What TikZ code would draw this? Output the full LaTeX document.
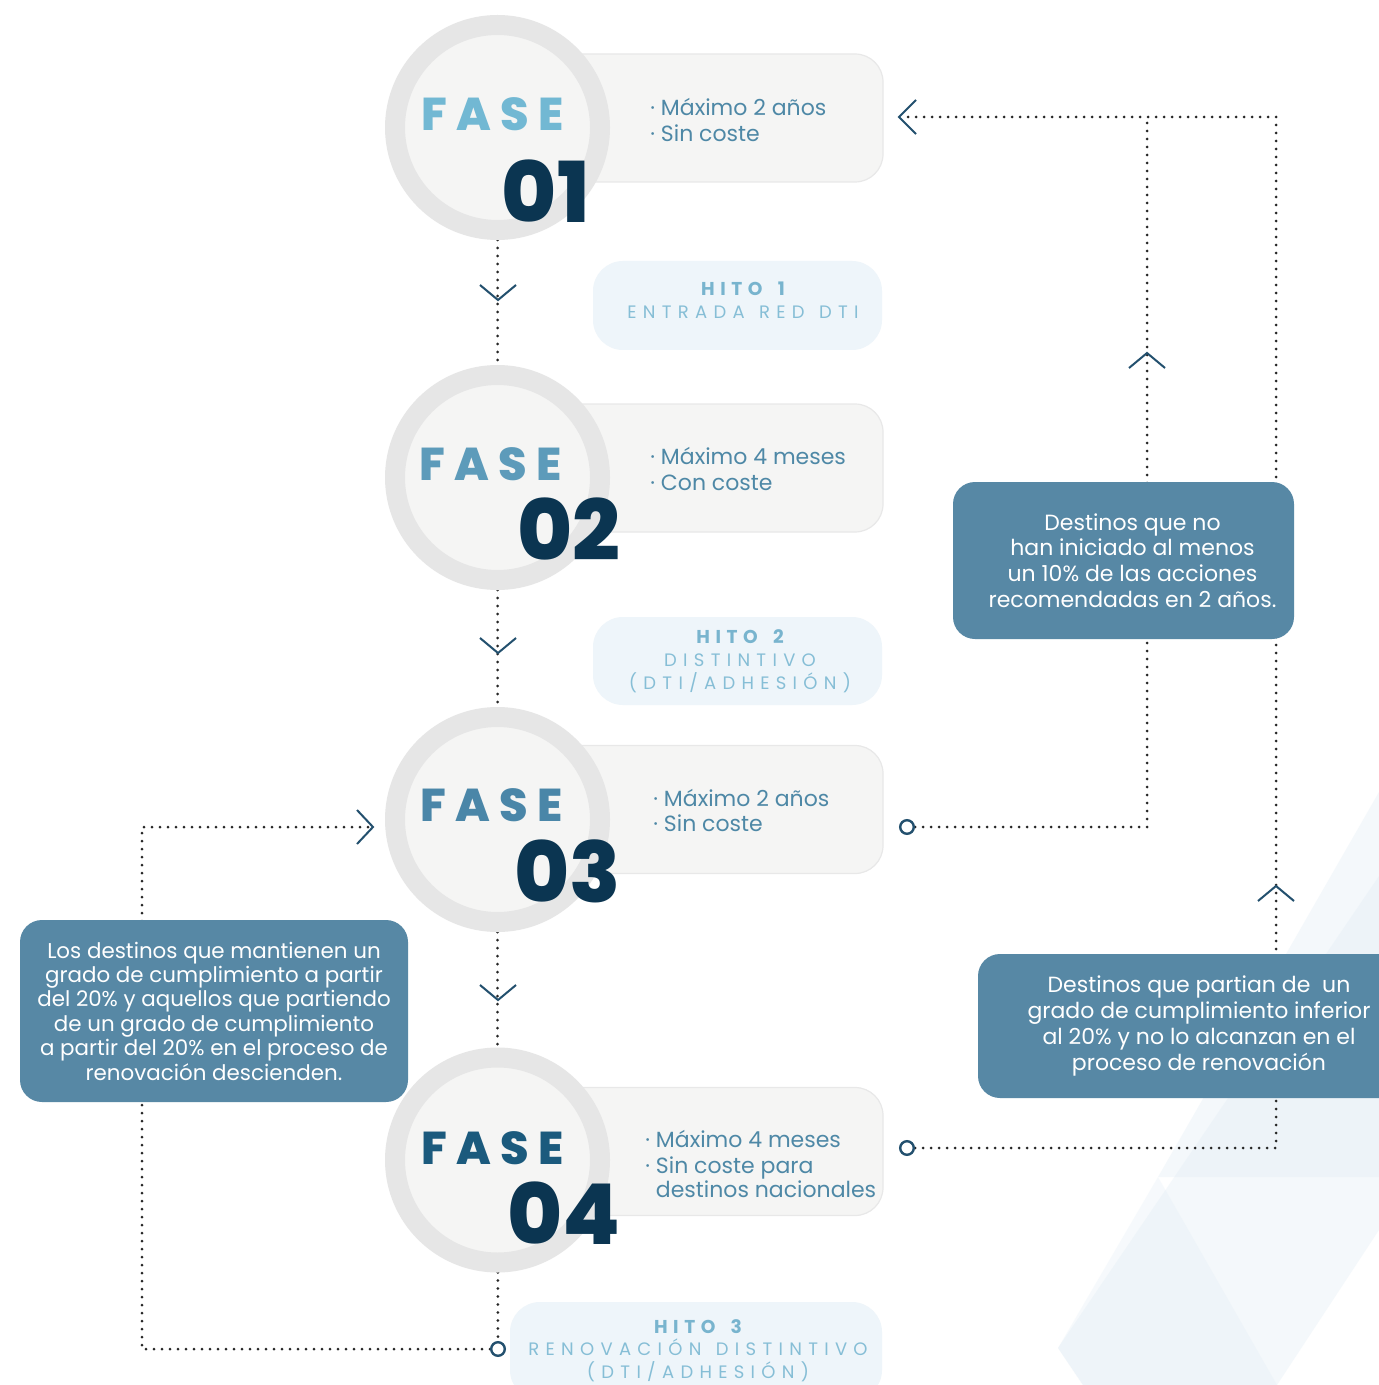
\documentclass[tikz,border=0pt]{standalone}
\usepackage{fontspec}
\newfontfamily\pop{Poppins}
\newfontfamily\popxb{Poppins ExtraBold}
\newfontfamily\popls[LetterSpace=30,WordSpace=1.6]{Poppins}
\newfontfamily\poplsr[LetterSpace=35,WordSpace=1.3]{Poppins}
\newfontfamily\popfase[LetterSpace=20]{Poppins ExtraBold}
\definecolor{ringc}{HTML}{E6E6E6}
\definecolor{innerc}{HTML}{F5F5F4}
\definecolor{grayfill}{HTML}{F5F5F4}
\definecolor{grayline}{HTML}{E8E8E8}
\definecolor{hitofill}{HTML}{EEF5FA}
\definecolor{hitoc}{HTML}{78B4CE}
\definecolor{hitoc2}{HTML}{86BED6}
\definecolor{boxblue}{HTML}{5788A5}
\definecolor{dotc}{HTML}{262626}
\definecolor{chevc}{HTML}{23506E}
\definecolor{numc}{HTML}{0B3551}
\definecolor{bodyc}{HTML}{4E88A6}
\definecolor{faseA}{HTML}{72B8D3}
\definecolor{faseB}{HTML}{5D9BBA}
\definecolor{faseC}{HTML}{4A86A8}
\definecolor{faseD}{HTML}{1B5A7D}
\definecolor{bgtri}{HTML}{DDEAF4}
\pgfdeclarelayer{bg}
\pgfsetlayers{bg,main}
\begin{document}
\begin{tikzpicture}[x=0.5pt,y=-0.5pt,
  ring/.style={circle, draw=ringc, line width=10pt, fill=innerc, minimum size=102.5pt, inner sep=0pt},
  graybox/.style={draw=grayline, line width=0.6pt, fill=grayfill, rounded corners=14pt, minimum width=171.5pt, minimum height=64pt, inner sep=0pt},
  hitobox/.style={fill=hitofill, rounded corners=15pt, inner sep=0pt},
  bluebox/.style={fill=boxblue, rounded corners=11pt, text=white, align=center, inner sep=0pt},
  dots/.style={draw=dotc, line width=1.5pt, line cap=round, dash pattern=on 0pt off 4pt},
  chev/.style={draw=chevc, line width=1pt},
  endc/.style={circle, draw=chevc, line width=1.2pt, fill=white, minimum size=6.8pt, inner sep=0pt},
  fase/.style={anchor=base west, inner sep=0pt, font=\popfase\fontsize{23}{23}\selectfont},
  num/.style={anchor=base east, inner sep=0pt, text=numc, font=\popxb\fontsize{42}{42}\selectfont},
  body/.style={anchor=base west, inner sep=0pt, text=bodyc, font=\pop\fontsize{11}{13}\selectfont},
  hitoh/.style={anchor=base, inner sep=0pt, text=hitoc, font=\popls\bfseries\fontsize{9.3}{10}\selectfont},
  hitot/.style={anchor=base, inner sep=0pt, text=hitoc2, font=\poplsr\fontsize{9}{10}\selectfont},
]
\useasboundingbox (0,0) rectangle (1379,1385);

% background shapes
\begin{pgfonlayer}{bg}
\fill[white] (0,0) rectangle (1379,1385);
\fill[bgtri, opacity=0.3] (1379,792) -- (1158,1177) -- (1379,1177) -- cycle;
\fill[bgtri, opacity=0.3] (1379,876) -- (1058,1348) -- (1083,1385) -- (1277,1385) -- (1379,1230) -- cycle;
\fill[bgtri, opacity=0.25] (1158,1177) -- (1277,1385) -- (1083,1385) -- (1058,1348) -- cycle;
\end{pgfonlayer}

% gray info boxes
\node[graybox] (r1) at (711.5,118) {};
\node[graybox] (r2) at (711.5,468) {};
\node[graybox] (r3) at (711.5,809.5) {};
\node[graybox] (r4) at (711.5,1151.5) {};

% hito boxes
\node[hitobox, minimum width=144.5pt, minimum height=44.5pt] (h1) at (737.5,305.5) {};
\node[hitobox, minimum width=144.5pt, minimum height=44pt] (h2) at (737.5,661) {};
\node[hitobox, minimum width=186pt, minimum height=49pt] (h3) at (696,1351) {};

% phase circles
\node[ring] (c1) at (497.5,127.5) {};
\node[ring] (c2) at (497.5,477.5) {};
\node[ring] (c3) at (497.5,819.5) {};
\node[ring] (c4) at (497.5,1160) {};

% FASE labels
\node[fase, text=faseA] (f1) at (421,131) {FASE};
\node[fase, text=faseB] (f2) at (419,480) {FASE};
\node[fase, text=faseC] (f3) at (420,821) {FASE};
\node[fase, text=faseD] (f4) at (421,1164) {FASE};

\node[num] (n1) at (590,223) {01};
\node[num] (n2) at (621,560) {02};
\node[num] (n3) at (621,902) {03};
\node[num] (n4) at (621,1244) {04};

% body texts
\node[body] (t1a) at (650,116) {· Máximo 2 años};
\node[body] (t1b) at (650,142) {· Sin coste};
\node[body] (t2a) at (650,464) {· Máximo 4 meses};
\node[body] (t2b) at (650,490) {· Con coste};
\node[body] (t3a) at (653,806) {· Máximo 2 años};
\node[body] (t3b) at (653,831) {· Sin coste};
\node[body] (t4a) at (645,1147) {· Máximo 4 meses};
\node[body] (t4b) at (645,1173) {· Sin coste para};
\node[body] (t4c) at (645,1197) {\phantom{· }destinos nacionales};

% hito texts
\node[hitoh] (h1a) at (743,296) {HITO 1};
\node[hitot] (h1b) at (743,319) {ENTRADA RED DTI};
\node[hitoh] (h2a) at (740,643) {HITO 2};
\node[hitot] (h2b) at (740,666) {DISTINTIVO};
\node[hitot] (h2c) at (740,689) {(DTI/ADHESIÓN)};
\node[hitoh] (h3a) at (698,1333) {HITO 3};
\node[hitot] (h3b) at (698,1355) {RENOVACIÓN DISTINTIVO};
\node[hitot] (h3c) at (698,1378) {(DTI/ADHESIÓN)};

% blue explanation boxes
\node[bluebox, minimum width=170.5pt, minimum height=78.5pt,
      font=\pop\fontsize{11}{12.9}\selectfont] (bTR) at (1123.5,560.5)
  {\hspace*{9pt}Destinos que no\\\hspace*{9pt}han iniciado al menos\\\hspace*{9pt}un 10\% de las acciones\\\hspace*{9pt}recomendadas en 2 años.};
\node[bluebox, minimum width=221pt, minimum height=72pt,
      font=\pop\fontsize{11}{12.9}\selectfont] (bBR) at (1199,1026)
  {Destinos que partian de \ un\\grado de cumplimiento inferior\\al 20\% y no lo alcanzan en el\\proceso de renovación};
\node[bluebox, minimum width=194pt, minimum height=91pt,
      font=\pop\fontsize{10.7}{12.2}\selectfont] (bL) at (214,1011)
  {Los destinos que mantienen un\\grado de cumplimiento a partir\\del 20\% y aquellos que partiendo\\de un grado de cumplimiento\\a partir del 20\% en el proceso de\\renovación descienden.};

% small end circles
\node[endc] (s4) at (498,1349) {};
\node[endc] (sr3) at (907,827) {};
\node[endc] (sr4) at (907,1148) {};

% free ends / corners
\coordinate (ltip) at (373,827);
\coordinate (lc) at (142,827);
\coordinate (rtip) at (899,117);
\coordinate (tc1) at (1147,117);
\coordinate (tc2) at (1276,117);

% dotted connectors
\begin{pgfonlayer}{bg}
\draw[dots] (c1) -- (c2);
\draw[dots] (c2) -- (c3);
\draw[dots] (c3) -- (c4);
\draw[dots] (c4) -- (s4.north);
\draw[dots] (s4.west) -| (lc) -- ([xshift=-2pt]ltip);
\draw[dots] (sr3.east) -| (tc1);
\draw[dots] (sr4.east) -| (tc2) -- ([xshift=2pt]rtip);
\end{pgfonlayer}

% chevrons
\draw[chev] (480,285) -- (498,300) -- (516,285);
\draw[chev] (480,638) -- (498,653) -- (516,638);
\draw[chev] (480,985) -- (498,1000) -- (516,985);
\draw[chev] ([shift={(-16,-17)}]ltip) -- (ltip) -- ([shift={(-16,17)}]ltip);
\draw[chev] ([shift={(17,-17)}]rtip) -- (rtip) -- ([shift={(17,17)}]rtip);
\draw[chev] (1129,368) -- (1147,353) -- (1165,368);
\draw[chev] (1258,901) -- (1276,886) -- (1294,901);
\end{tikzpicture}
\end{document}
